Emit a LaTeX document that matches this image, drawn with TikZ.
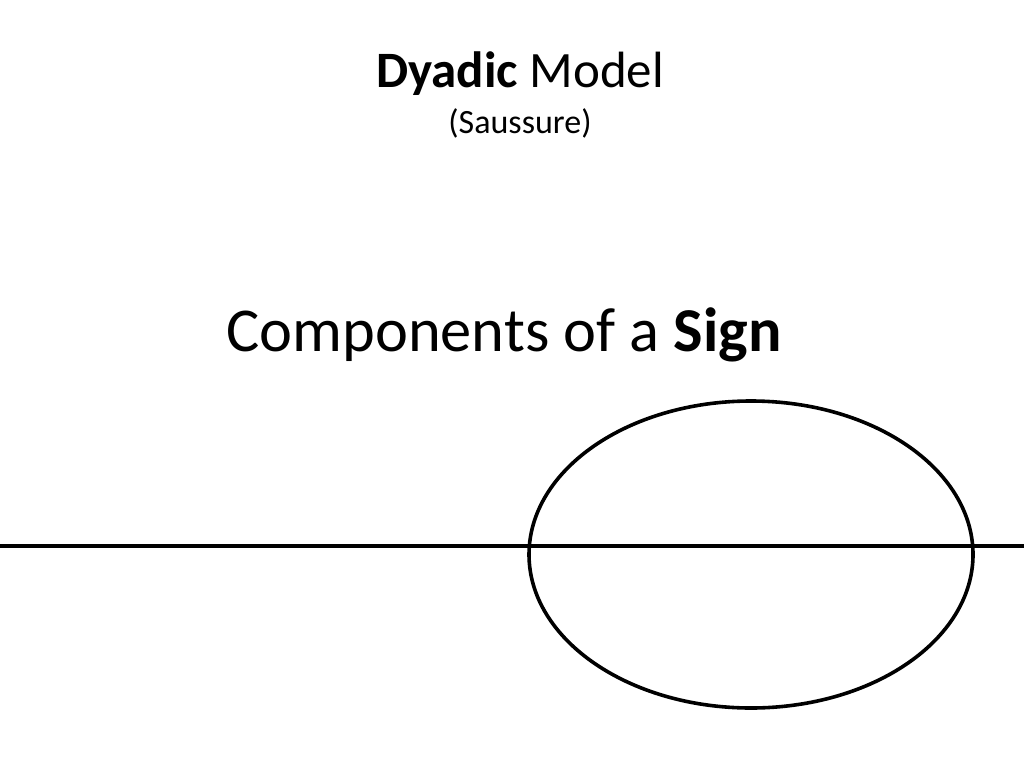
\documentclass[tikz,border=0pt]{standalone}
\usepackage{fontspec}
\usetikzlibrary{shapes.geometric}
\setmainfont{Carlito}
\begin{document}
\begin{tikzpicture}[x=1pt,y=-1pt,
  shape line/.style={line width=3.6pt, draw=black}]
\useasboundingbox (0,0) rectangle (1024,768);
\node[anchor=base, inner sep=0pt, font=\fontsize{51}{60}\selectfont] (title) at (520,87) {\textbf{Dyadic} Model};
\node[anchor=base, inner sep=0pt, font=\fontsize{34}{40}\selectfont] (sub) at (520,133) {(Saussure)};
\node[anchor=base, inner sep=0pt, font=\fontsize{62.4}{74}\selectfont] (comp) at (504,351) {Components of a \textbf{Sign}};
\coordinate (l) at (0,546);
\coordinate (r) at (1024,546);
\draw[shape line] (l) -- (r);
\node[shape line, ellipse, minimum width=444pt, minimum height=307pt, inner sep=0pt] (sign) at (751,554.5) {};
\end{tikzpicture}
\end{document}
